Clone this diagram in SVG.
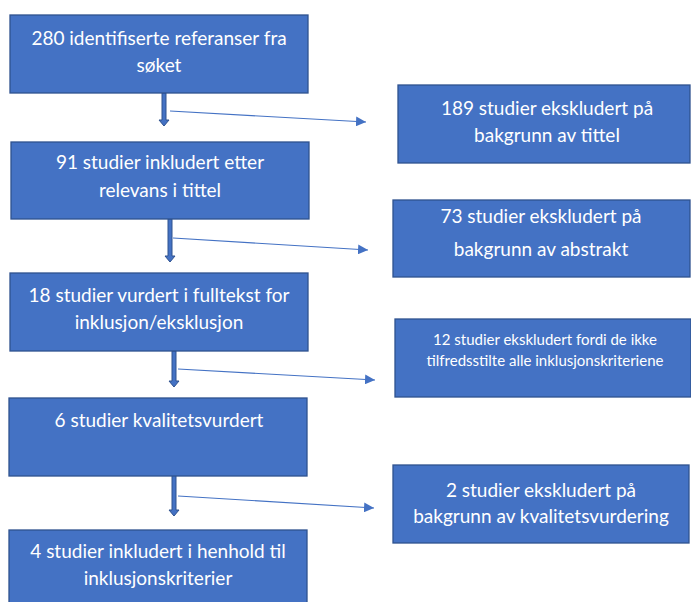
<svg xmlns="http://www.w3.org/2000/svg" width="691" height="602" viewBox="0 0 691 602">
<defs>
<style>
.box{fill:#4472C4;stroke:#2F528F;stroke-width:1.3}
.t{font-family:Lato,"Open Sans","Liberation Sans",sans-serif;font-size:19px;fill:#FFFFFF;text-anchor:middle}
.s{font-size:15px}
.thin{stroke:#4472C4;stroke-width:1.1;fill:none;marker-end:url(#ah)}
.shaft{fill:#4472C4;stroke:#2F528F;stroke-width:1}
</style>
<marker id="ah" viewBox="0 0 10 10" refX="10" refY="5" markerWidth="10" markerHeight="10" markerUnits="userSpaceOnUse" orient="auto">
<path d="M0,0 L10,5 L0,10 Z" fill="#4472C4"/>
</marker>
</defs>
<rect width="691" height="602" fill="#FFFFFF"/>
<g id="connectors">
<polygon class="shaft" points="162,93 166,93 166,120 169,120 164,126 159,120 162,120"/>
<polygon class="shaft" points="168,219 172,219 172,256 175,256 170,262 165,256 168,256"/>
<polygon class="shaft" points="172,351 176,351 176,381 179,381 174,387 169,381 172,381"/>
<polygon class="shaft" points="172,475 176,475 176,510 179,510 174,516 169,510 172,510"/>
<line class="thin" x1="170" y1="111" x2="366" y2="122"/>
<line class="thin" x1="173" y1="238" x2="368" y2="250"/>
<line class="thin" x1="178" y1="369" x2="375" y2="380"/>
<line class="thin" x1="178" y1="496" x2="374" y2="508"/>
</g>
<g id="n1">
<rect class="box" x="10" y="15" width="298" height="78"/>
<text class="t" x="159" y="45">280 identifiserte referanser fra</text>
<text class="t" x="159" y="72">søket</text>
</g>
<g id="n2">
<rect class="box" x="398" y="85" width="292" height="78"/>
<text class="t" x="547" y="115">189 studier ekskludert på</text>
<text class="t" x="547" y="142">bakgrunn av tittel</text>
</g>
<g id="n3">
<rect class="box" x="11" y="142" width="298" height="77"/>
<text class="t" x="160" y="169">91 studier inkludert etter</text>
<text class="t" x="160" y="197">relevans i tittel</text>
</g>
<g id="n4">
<rect class="box" x="393" y="200" width="297" height="77"/>
<text class="t" x="541" y="223">73 studier ekskludert på</text>
<text class="t" x="541" y="256">bakgrunn av abstrakt</text>
</g>
<g id="n5">
<rect class="box" x="10" y="273" width="298" height="78"/>
<text class="t" x="159" y="302">18 studier vurdert i fulltekst for</text>
<text class="t" x="159" y="329">inklusjon/eksklusjon</text>
</g>
<g id="n6">
<rect class="box" x="395" y="319" width="296" height="78"/>
<text class="t s" x="545" y="345">12 studier ekskludert fordi de ikke</text>
<text class="t s" x="545" y="366">tilfredsstilte alle inklusjonskriteriene</text>
</g>
<g id="n7">
<rect class="box" x="9" y="398" width="298" height="78"/>
<text class="t" x="159" y="427">6 studier kvalitetsvurdert</text>
</g>
<g id="n8">
<rect class="box" x="393" y="465" width="296" height="78"/>
<text class="t" x="541" y="497">2 studier ekskludert på</text>
<text class="t" x="541" y="523">bakgrunn av kvalitetsvurdering</text>
</g>
<g id="n9">
<rect class="box" x="9" y="530" width="298" height="80"/>
<text class="t" x="158" y="558">4 studier inkludert i henhold til</text>
<text class="t" x="158" y="585">inklusjonskriterier</text>
</g>
</svg>
